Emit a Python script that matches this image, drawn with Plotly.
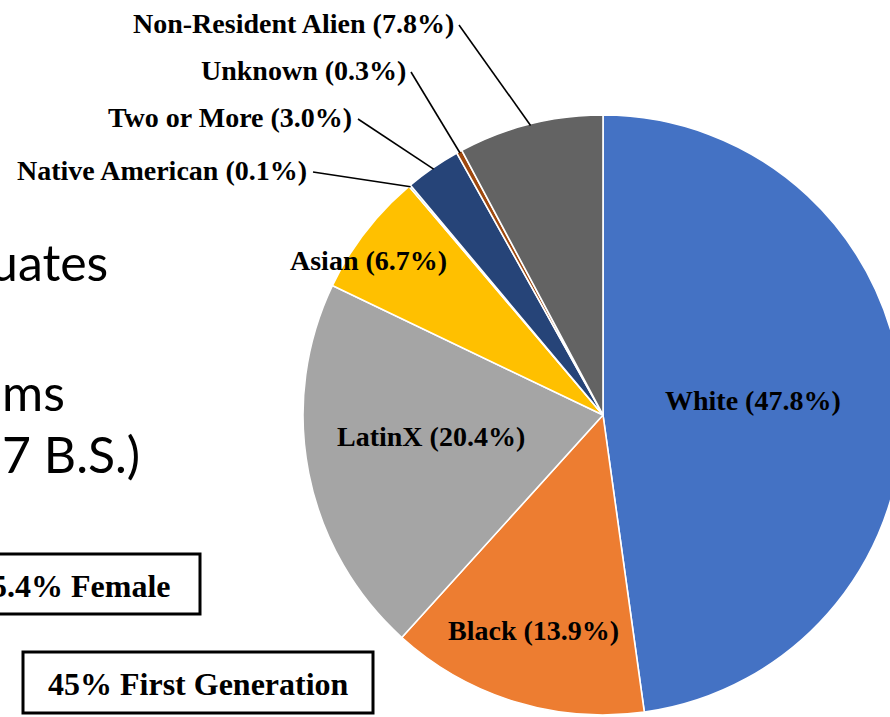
import math
import plotly.graph_objects as go

# ---------------- data ----------------
categories = ["White", "Black", "LatinX", "Asian", "Native American",
              "Two or More", "Unknown", "Non-Resident Alien"]
shares = [47.8, 13.9, 20.4, 6.7, 0.1, 3.0, 0.3, 7.8]
slice_colors = ["#4472C4", "#ED7D31", "#A5A5A5", "#FFC000", "#5B9BD5",
                "#264478", "#9E480E", "#636363"]

side_text = ["uates", "ms", "7 B.S.)"]
box_text = ["5.4% Female", "45% First Generation"]

# ---------------- layout geometry (pixels) ----------------
W, H = 905, 717
CX, CY, R = 603, 415, 300

def px(x):
    return x / W

def py(y):
    return 1 - y / H

# label placement: inside labels as (radius fraction, angle offset deg)
inside_pos = {
    "White": (0.504, -1.7),
    "Black": (0.756, 0.7),
    "LatinX": (0.578, 3.9),
    "Asian": (0.938, -4.2),
}
# outside labels: (right end x, centre y, leader start x, leader start y)
outside_pos = {
    "Non-Resident Alien": (456, 23, 459, 25),
    "Unknown": (408, 70, 411, 72),
    "Two or More": (354, 117, 358, 119),
    "Native American": (309, 170, 313, 172),
}

LABEL_FONT = dict(family="Liberation Serif, Times New Roman, serif", size=28, color="#000000")

fig = go.Figure()
fig.add_trace(go.Pie(
    labels=categories,
    values=shares,
    sort=False,
    direction="clockwise",
    rotation=0,
    marker=dict(colors=slice_colors, line=dict(color="#FFFFFF", width=1.6)),
    textinfo="none",
    hoverinfo="label+percent",
    showlegend=False,
    domain=dict(x=[px(CX - R), px(CX + R)], y=[py(CY + R), py(CY - R)]),
))

# compute mid angles from data
total = sum(shares)
mid_angle = {}
acc = 0.0
for name, v in zip(categories, shares):
    a0 = acc / total * 360
    acc += v
    a1 = acc / total * 360
    mid_angle[name] = (a0 + a1) / 2

def polar(r, ang):
    rad = math.radians(ang)
    return CX + r * math.sin(rad), CY - r * math.cos(rad)

annotations = []
shapes = []
for name, v in zip(categories, shares):
    label = f"<b>{name} ({v:.1f}%)</b>"
    if name in inside_pos:
        rf, dth = inside_pos[name]
        x, y = polar(rf * R, mid_angle[name] + dth)
        annotations.append(dict(x=px(x), y=py(y), xref="paper", yref="paper",
                                text=label, showarrow=False, font=LABEL_FONT,
                                xanchor="center", yanchor="middle"))
    else:
        tx, ty, lx, ly = outside_pos[name]
        annotations.append(dict(x=px(tx), y=py(ty), xref="paper", yref="paper",
                                text=label, showarrow=False, font=LABEL_FONT,
                                xanchor="right", yanchor="middle"))
        ex, ey = polar(R * 0.995, mid_angle[name])
        shapes.append(dict(type="line", xref="paper", yref="paper",
                           x0=px(lx), y0=py(ly), x1=px(ex), y1=py(ey),
                           line=dict(color="#000000", width=1.6)))

# slide text on the left (cut off)
SANS = dict(family="Lato, Open Sans, sans-serif", size=50, color="#000000")
side_pos = [(110, 262), (67, 392), (142, 454)]
for t, (x, y) in zip(side_text, side_pos):
    annotations.append(dict(x=px(x), y=py(y), xref="paper", yref="paper",
                            text=t, showarrow=False, font=SANS,
                            xanchor="right", yanchor="middle"))

# boxed notes
BOX_FONT = dict(family="Liberation Serif, Times New Roman, serif", size=32, color="#000000")
boxes = [(-20, 554, 200, 614), (23, 652, 373, 713)]
box_text_pos = [(173, 586, "right"), (198, 684, "center")]
for (x0, y0, x1, y1), (tx, ty, anc), t in zip(boxes, box_text_pos, box_text):
    shapes.append(dict(type="rect", xref="paper", yref="paper",
                       x0=px(x0), x1=px(x1), y0=py(y1), y1=py(y0),
                       line=dict(color="#000000", width=3), fillcolor="rgba(0,0,0,0)"))
    annotations.append(dict(x=px(tx), y=py(ty), xref="paper", yref="paper",
                            text=f"<b>{t}</b>", showarrow=False, font=BOX_FONT,
                            xanchor=anc, yanchor="middle"))

fig.update_layout(
    width=W, height=H,
    margin=dict(l=0, r=0, t=0, b=0, pad=0),
    paper_bgcolor="#FFFFFF",
    plot_bgcolor="#FFFFFF",
    annotations=annotations,
    shapes=shapes,
)

fig.write_html(
    "out.html",
    config={"displayModeBar": False},
    post_script="document.body.style.margin='0';document.body.style.overflow='hidden';",
)
